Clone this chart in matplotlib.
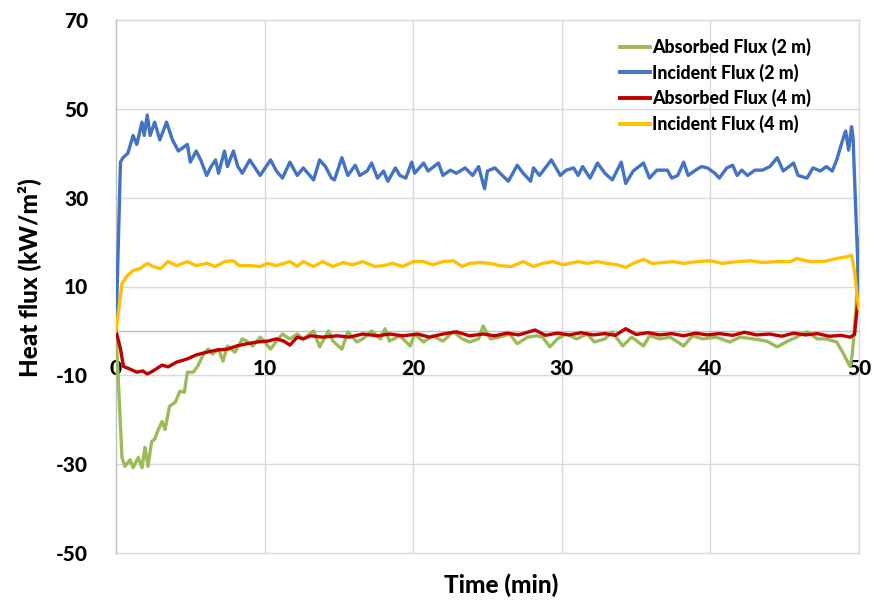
import matplotlib
matplotlib.use("Agg")
import matplotlib.pyplot as plt

# ---------------- data ----------------
t_abs2 = [0, 0.4, 0.6, 0.95, 1.15, 1.5, 1.75, 1.95, 2.15, 2.4, 2.6, 2.8, 3.1, 3.3, 3.6, 4.0,
          4.3, 4.6, 4.8, 5.2, 5.5, 5.9, 6.2, 6.5, 6.9, 7.2, 7.5, 8.0, 8.5, 8.8, 9.2, 9.7,
          10.0, 10.4, 10.8, 11.2, 11.5, 11.7, 12.2, 12.6, 13.3, 13.7, 14.3, 14.6, 15.2,
          15.6, 16.2, 16.6, 17.2, 17.8, 18.1, 18.4, 19.1, 19.8, 20.1, 20.7, 21.3, 22.0,
          22.7, 23.3, 23.8, 24.4, 24.7, 25.2, 25.8, 26.5, 27.0, 27.7, 28.3, 28.7, 29.2,
          29.7, 30.3, 31.0, 31.7, 32.2, 32.9, 33.4, 34.1, 34.7, 35.5, 35.9, 36.6, 37.3,
          37.8, 38.2, 38.8, 39.5, 40.4, 41.3, 42.0, 42.9, 43.8, 44.5, 45.2, 45.8, 46.5,
          47.2, 47.8, 48.5, 48.9, 49.2, 49.4, 49.55, 49.8, 50.0]
v_abs2 = [0, -28.5, -30.5, -29, -30.8, -28.5, -30.8, -26.2, -30.5, -24.9, -24.4, -22.6,
          -20.4, -22.2, -17, -16, -13.6, -13.8, -9.3, -9.3, -7.9, -5.2, -4.1, -5.2, -4.1,
          -6.8, -3.4, -4.8, -1.8, -2.3, -3.4, -1.4, -2.5, -4.1, -2.3, -0.7, -1.4, -1.8,
          -0.7, -1.8, 0, -3.6, 0, -2.3, -4.1, -0.2, -2.5, -1.8, 0, -1.8, 0.5, -2.3, -1.1,
          -3.4, -0.7, -2.5, -1.1, -2.3, -0.2, -1.8, -2.5, -1.8, 1.1, -1.8, -1.4, -0.7,
          -2.9, -1.4, -1.1, -1.4, -3.6, -1.8, -0.7, -1.8, -0.7, -2.5, -1.8, -0.2, -3.4,
          -1.4, -3.4, -1.1, -1.8, -1.4, -2.5, -3.4, -1.1, -1.8, -1.4, -2.5, -1.4, -1.8,
          -2.3, -3.6, -2.3, -1.4, -0.2, -1.8, -1.8, -2.5, -4.8, -6.8, -8.0, -5.2, 5.0, 21.0]

t_inc2 = [0, 0.3, 0.47, 0.8, 1.15, 1.4, 1.75, 1.9, 2.1, 2.3, 2.6, 2.95, 3.4, 3.8, 4.2, 4.8,
          5.0, 5.4, 5.7, 6.1, 6.4, 6.7, 6.9, 7.3, 7.5, 7.9, 8.2, 8.5, 9.0, 9.7, 10.4, 10.8,
          11.2, 11.7, 12.2, 12.6, 13.3, 13.7, 14.1, 14.5, 14.7, 15.2, 15.6, 16.1, 16.4,
          16.9, 17.2, 17.6, 18.0, 18.3, 18.8, 19.1, 19.5, 19.9, 20.1, 20.7, 21.0, 21.7,
          22.0, 22.5, 22.9, 23.5, 24.0, 24.4, 24.8, 25.0, 25.5, 26.0, 26.4, 27.0, 27.4,
          27.9, 28.1, 28.5, 29.3, 29.9, 30.3, 30.8, 31.1, 31.4, 31.9, 32.4, 32.9, 33.4,
          34.0, 34.3, 34.8, 35.5, 35.9, 36.4, 37.1, 37.4, 37.8, 38.2, 38.5, 39.0, 39.4,
          39.8, 40.3, 40.6, 41.1, 41.5, 41.8, 42.1, 42.5, 43.0, 43.5, 44.0, 44.5, 44.9,
          45.6, 45.9, 46.5, 46.9, 47.4, 47.8, 48.2, 48.5, 48.9, 49.1, 49.3, 49.5, 49.6,
          49.75, 50.0]
v_inc2 = [0, 38, 39, 40, 44, 42, 47, 44, 48.6, 44, 47, 43, 47, 43, 40.5, 42, 38, 40.5,
          38.5, 35, 37, 38.5, 35.5, 40.5, 37, 40.5, 37, 35.5, 38.5, 35, 38.5, 36, 34.4, 38,
          35, 36.7, 34, 38.5, 37, 34.4, 34, 39, 35, 37.3, 35, 36, 37.8, 34.4, 36, 33.7,
          36.7, 35, 34.4, 38, 35.5, 37.8, 36, 37.8, 35, 36.2, 35.5, 36.7, 35, 37, 32, 36,
          36.7, 35, 33.7, 37.3, 35.5, 33.7, 36.7, 35, 38.5, 35, 36.2, 36.7, 35, 37, 34.4,
          37.8, 35.5, 34, 38, 33.2, 36, 37.8, 34.4, 36.2, 36.2, 34.4, 35, 38, 35, 36.2, 37,
          36.7, 35.5, 34.4, 36.7, 37.3, 35, 36.2, 35, 36.2, 36.2, 37, 39, 36, 37.8, 35,
          34.4, 36.7, 36, 37, 36, 38.5, 43, 45, 40.7, 46, 43.5, 30, 8]

t_abs4 = [0, 0.3, 0.5, 0.95, 1.4, 1.8, 2.1, 2.5, 3.1, 3.5, 4.1, 4.8, 5.4, 6.1, 6.8, 7.5,
          8.1, 8.8, 9.5, 10.2, 10.8, 11.3, 11.7, 12.2, 12.6, 13.1, 13.9, 14.9, 15.7, 16.6,
          17.6, 18.4, 19.3, 20.3, 21.1, 22.0, 22.9, 23.8, 24.7, 25.5, 26.3, 27.1, 28.2,
          28.9, 29.7, 30.5, 31.3, 32.1, 32.9, 33.6, 34.3, 35.0, 35.8, 36.6, 37.4, 38.2,
          39.0, 39.8, 40.6, 41.5, 42.3, 43.1, 44.0, 44.8, 45.6, 46.4, 47.2, 48.0, 48.8,
          49.4, 49.7, 49.95, 50.0]
v_abs4 = [0, -4, -8, -8.6, -9.3, -9, -9.7, -9, -7.7, -8.1, -7, -6.3, -5.4, -4.8, -4.3,
          -4.1, -3.4, -2.9, -2.5, -2.3, -1.8, -2.3, -3.2, -1.4, -1.8, -1.1, -1.4, -1.1,
          -1.4, -0.7, -1.1, -0.7, -1.1, -0.7, -1.4, -0.7, -0.2, -1.1, -0.7, -1.1, -0.5,
          -0.9, 0.2, -1.0, -0.5, -0.9, -0.4, -0.9, -0.6, -1.0, 0.5, -0.8, -0.4, -0.9,
          -0.6, -1.1, -0.5, -0.9, -0.6, -1.0, -0.3, -0.9, -0.7, -1.2, -0.5, -0.9, -0.6,
          -1.2, -1.0, -1.4, -0.8, 7.7, 7.5]

t_inc4 = [0, 0.4, 0.7, 1.15, 1.6, 2.1, 2.5, 3.0, 3.5, 4.1, 4.8, 5.4, 6.1, 6.7, 7.3, 7.9,
          8.3, 9.0, 9.7, 10.2, 10.8, 11.7, 12.2, 12.6, 13.3, 13.9, 14.6, 15.3, 15.9, 16.6,
          17.4, 18.0, 18.6, 19.3, 20.0, 20.7, 21.3, 22.0, 22.7, 23.3, 23.8, 24.5, 25.2,
          25.8, 26.6, 27.4, 28.1, 28.7, 29.4, 30.1, 31.1, 31.7, 32.4, 33.0, 33.7, 34.3,
          34.8, 35.5, 36.1, 36.8, 37.5, 38.2, 39.1, 40.0, 40.8, 41.8, 42.7, 43.5, 44.5,
          45.4, 45.8, 46.7, 47.6, 48.5, 49.2, 49.5, 49.7, 49.95, 50.0]
v_inc4 = [0, 10.6, 12.2, 13.6, 14, 15.2, 14.5, 14, 15.6, 14.7, 15.6, 14.7, 15.2, 14.5,
          15.6, 15.8, 14.7, 14.7, 14.5, 15.2, 14.7, 15.6, 14.6, 15.6, 14.5, 15.6, 14.5,
          15.4, 14.9, 15.6, 14.5, 14.7, 15.2, 14.5, 15.6, 15.6, 14.9, 15.6, 15.8, 14.5,
          15.2, 15.4, 15.2, 14.7, 14.5, 15.6, 14.5, 15.2, 15.6, 14.9, 15.6, 15.2, 15.6,
          15.2, 14.9, 14.3, 15.2, 16.1, 15.2, 15.4, 15.6, 15.2, 15.6, 15.8, 15.2, 15.6,
          15.8, 15.4, 15.6, 15.6, 16.3, 15.6, 15.6, 16.3, 16.7, 17, 13.3, 5.7, 5.0]

labels = ["Absorbed Flux (2 m)", "Incident Flux (2 m)", "Absorbed Flux (4 m)", "Incident Flux (4 m)"]
colors = ["#9BBB59", "#4472C4", "#C00000", "#FFC000"]
x_ticks = [0, 10, 20, 30, 40, 50]
y_ticks = [-50, -30, -10, 10, 30, 50, 70]

# ---------------- figure ----------------
plt.rcParams['font.family'] = ['Lato', 'DejaVu Sans']
FW = 'black'

fig = plt.figure(figsize=(8.74, 6.03), dpi=100)
W, H = 874, 603
ax = fig.add_axes([116 / W, 1 - 553 / H, (859 - 116) / W, (553 - 20) / H])
ax.set_xlim(0, 50)
ax.set_ylim(-50, 70)

grid_c = "#D9D9D9"
for yv in y_ticks:
    ax.axhline(yv, color=grid_c, lw=1.0, zorder=0, clip_on=False)
for xv in x_ticks[1:]:
    ax.axvline(xv, color=grid_c, lw=1.0, zorder=0, clip_on=False)

for s in ['top', 'right']:
    ax.spines[s].set_visible(False)
ax.spines['left'].set_color("#BFBFBF")
ax.spines['left'].set_linewidth(1.0)
ax.spines['bottom'].set_position(('data', 0))
ax.spines['bottom'].set_color("#BFBFBF")
ax.spines['bottom'].set_linewidth(1.0)

series = [(t_abs2, v_abs2), (t_inc2, v_inc2), (t_abs4, v_abs4), (t_inc4, v_inc4)]
for (tt, vv), lab, col in zip(series, labels, colors):
    ax.plot(tt, vv, color=col, lw=2.4, label=lab, zorder=3, solid_joinstyle='round')

ax.set_xticks(x_ticks)
ax.set_yticks(y_ticks)
ax.set_xticklabels([str(v) for v in x_ticks])
ax.set_yticklabels([str(v) for v in y_ticks])
ax.tick_params(axis='x', length=0, pad=20, labelsize=15)
ax.tick_params(axis='y', length=0, pad=20, labelsize=15)
for lbl in ax.get_xticklabels() + ax.get_yticklabels():
    lbl.set_fontweight(FW)

fig.text(501 / W, 1 - 585 / H, "Time (min)", ha='center', va='center',
         fontsize=17.5, fontweight=FW)
fig.text(30 / W, 1 - 278 / H, "Heat flux (kW/m²)", ha='center', va='center',
         rotation=90, fontsize=17.5, fontweight=FW)

leg = ax.legend(loc='upper left', bbox_to_anchor=(620 / W, 1 - 38 / H),
                bbox_transform=fig.transFigure, frameon=False,
                prop={'weight': FW, 'size': 12.8}, handlelength=1.7,
                handletextpad=0.12, labelspacing=0.42, borderpad=0, borderaxespad=0)
for h in leg.get_lines():
    h.set_linewidth(2.8)

fig.savefig("out.png", dpi=100)
